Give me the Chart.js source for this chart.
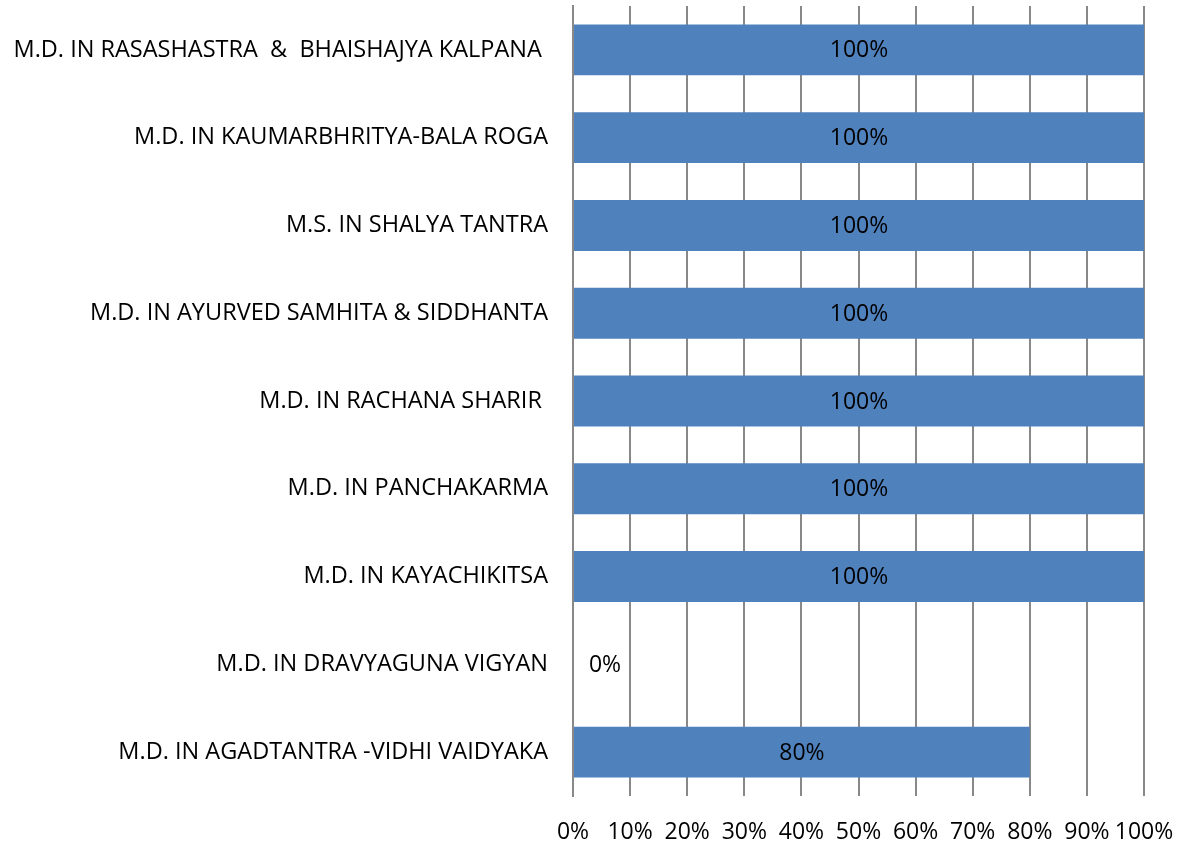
<!DOCTYPE html>
<html>
<head>
<meta charset="utf-8">
<script src="https://cdn.jsdelivr.net/npm/chart.js@4/dist/chart.umd.min.js"></script>
<style>
  html, body { margin: 0; padding: 0; background: #fff; }
  #wrap { width: 1181px; height: 848px; }
</style>
</head>
<body>
<div id="wrap"><canvas id="chart"></canvas></div>
<script>
// categories, top to bottom
let courses = [
    "M.D. IN RASASHASTRA  &  BHAISHAJYA KALPANA ",
    "M.D. IN KAUMARBHRITYA-BALA ROGA",
    "M.S. IN SHALYA TANTRA",
    "M.D. IN AYURVED SAMHITA & SIDDHANTA",
    "M.D. IN RACHANA SHARIR ",
    "M.D. IN PANCHAKARMA",
    "M.D. IN KAYACHIKITSA",
    "M.D. IN DRAVYAGUNA VIGYAN",
    "M.D. IN AGADTANTRA -VIDHI VAIDYAKA"
];
let percents = [100, 100, 100, 100, 100, 100, 100, 0, 80];
let tickValues = [0, 10, 20, 30, 40, 50, 60, 70, 80, 90, 100];

let font = "Open Sans";

// draws the value in the middle of each bar
let barLabels = {
    id: "barLabels",
    afterDatasetsDraw: function (chart) {
        let ctx = chart.ctx;
        let meta = chart.getDatasetMeta(0);
        ctx.save();
        ctx.font = "23px '" + font + "'";
        ctx.fillStyle = "#000";
        ctx.textAlign = "center";
        ctx.textBaseline = "middle";
        meta.data.forEach(function (bar, i) {
            let v = percents[i];
            let x = (bar.x + bar.base) / 2;
            if (v === 0) x = bar.base + 32;
            ctx.fillText(v + "%", x, bar.y + 1);
        });
        ctx.restore();
    }
};

function noPad(scale) {
    scale.paddingTop = 0;
    scale.paddingBottom = 0;
    scale.paddingLeft = 0;
    scale.paddingRight = 0;
}

new Chart(document.getElementById("chart"), {
    type: "bar",
    data: {
        labels: courses,
        datasets: [{
            data: percents,
            backgroundColor: "#4F81BD",
            borderWidth: 0,
            categoryPercentage: 1,
            barPercentage: 0.58
        }]
    },
    options: {
        indexAxis: "y",
        responsive: true,
        maintainAspectRatio: false,
        animation: false,
        layout: { padding: { top: 6, right: 37, left: 0, bottom: 0 } },
        plugins: {
            legend: { display: false },
            tooltip: { enabled: false }
        },
        scales: {
            x: {
                min: 0,
                max: 100,
                afterBuildTicks: function (scale) {
                    scale.ticks = tickValues.map(function (v) { return { value: v }; });
                },
                ticks: {
                    callback: function (v) { return v + "%"; },
                    color: "#000",
                    font: { family: font, size: 23 },
                    padding: 23,
                    maxRotation: 0,
                    autoSkip: false
                },
                grid: {
                    color: "#888888",
                    lineWidth: 2,
                    drawTicks: false
                },
                border: { display: false },
                afterFit: function (scale) { noPad(scale); scale.height = 52; }
            },
            y: {
                ticks: {
                    color: "#000",
                    font: { family: font, size: 23.5 },
                    padding: 25,
                    autoSkip: false
                },
                grid: { display: false, drawTicks: false },
                border: { display: true, color: "#888888", width: 2 },
                afterFit: function (scale) { noPad(scale); scale.width = 573; }
            }
        }
    },
    plugins: [barLabels]
});
</script>
</body>
</html>
